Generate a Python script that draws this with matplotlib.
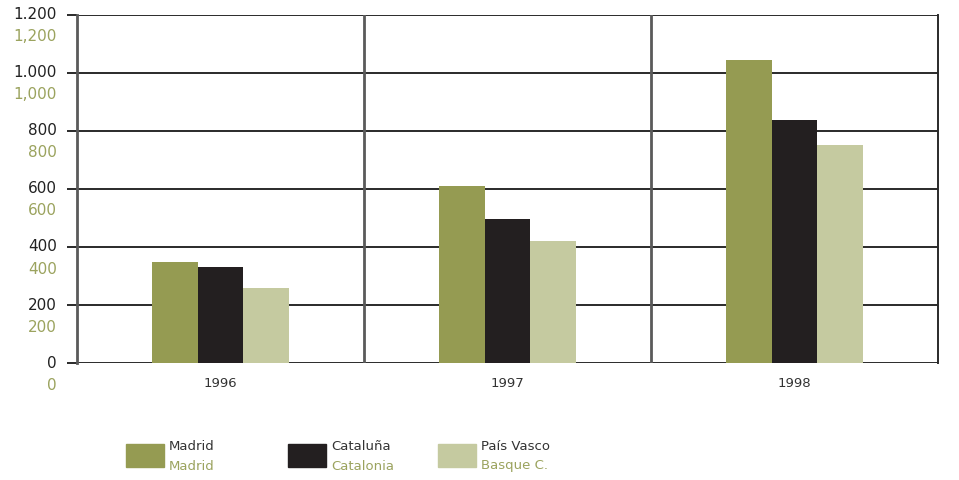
import matplotlib.pyplot as plt
import matplotlib.transforms as mtransforms
from matplotlib.patches import Rectangle

# data
years = ['1996', '1997', '1998']
madrid = [348, 610, 1045]
cataluna = [331, 497, 838]
pais_vasco = [259, 421, 752]

series_es = ['Madrid', 'Cataluña', 'País Vasco']
series_en = ['Madrid', 'Catalonia', 'Basque C.']
colors = ['#959b52', '#231f20', '#c5caa0']

yticks = [0, 200, 400, 600, 800, 1000, 1200]
ylabels_es = ['0', '200', '400', '600', '800', '1.000', '1.200']
ylabels_en = ['0', '200', '400', '600', '800', '1,000', '1,200']

green_txt = '#9ba35e'
font = 'DejaVu Sans'

fig = plt.figure(figsize=(9.59, 4.8), dpi=100)
ax = fig.add_axes([77 / 959, 1 - 363 / 480, 861 / 959, 348 / 480])

width = 0.16
x = range(len(years))
for k, vals in enumerate([madrid, cataluna, pais_vasco]):
    ax.bar([i + (k - 1) * width for i in x], vals, width=width,
           color=colors[k], zorder=3)

ax.set_xlim(-0.5, 2.5)
ax.set_ylim(0, 1200)

# horizontal gridlines
for t in yticks:
    ax.axhline(t, color='#2a2a2a', lw=1.4, zorder=2)
# category separators
for s in [0.5, 1.5]:
    ax.axvline(s, color='#5a5a5a', lw=2, zorder=2)

for sp in ['top', 'bottom']:
    ax.spines[sp].set_visible(False)
ax.spines['left'].set_color('#5a5a5a')
ax.spines['left'].set_linewidth(2)
ax.spines['right'].set_color('#2a2a2a')
ax.spines['right'].set_linewidth(1.4)

ax.set_yticks(yticks)
ax.set_yticklabels([])
ax.tick_params(axis='y', direction='out', length=7, width=1.4, color='#2a2a2a')
ax.set_xticks([])

# two-language tick labels
trans = mtransforms.blended_transform_factory(ax.transAxes, ax.transData)
off = mtransforms.ScaledTranslation(-20 / 100, 0, fig.dpi_scale_trans)
for t, es, en in zip(yticks, ylabels_es, ylabels_en):
    ax.text(0, t, es, transform=trans + off, ha='right', va='center',
            fontsize=11, color='#222222', family=font)
    ax.text(0, t, en, transform=trans + off + mtransforms.ScaledTranslation(0, -22 / 100, fig.dpi_scale_trans),
            ha='right', va='center', fontsize=11, color=green_txt, family=font)

for i, yr in zip(x, years):
    ax.text(i, -70, yr, ha='center', va='center', fontsize=9.5,
            color='#333333', family=font)

# legend drawn by hand
leg_x = [126, 288, 438]
for k in range(3):
    fig.patches.append(Rectangle((leg_x[k] / 959, 1 - 467 / 480), 38 / 959, 23 / 480,
                                 transform=fig.transFigure, color=colors[k]))
    fig.text((leg_x[k] + 43) / 959, 1 - 446 / 480, series_es[k], ha='left', va='center',
             fontsize=9.5, color='#333333', family=font)
    fig.text((leg_x[k] + 43) / 959, 1 - 466 / 480, series_en[k], ha='left', va='center',
             fontsize=9.5, color=green_txt, family=font)

fig.savefig('out.png', dpi=100)
